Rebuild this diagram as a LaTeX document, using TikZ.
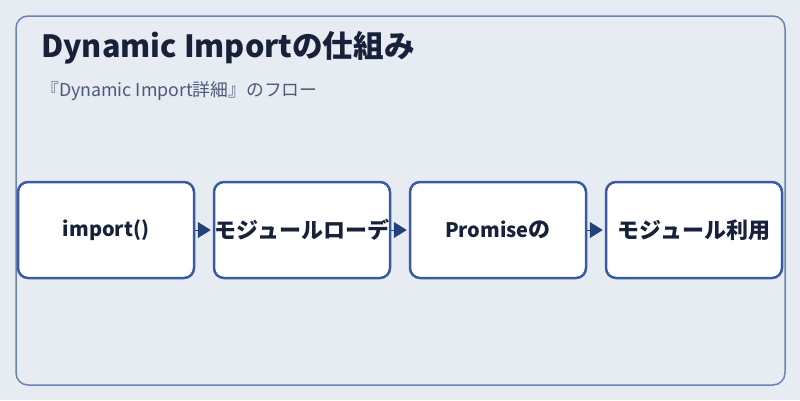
\documentclass[tikz,border=0pt]{standalone}
\usepackage{fontspec}
\setmainfont{Noto Sans CJK JP}
\usepackage{tikz}
\usetikzlibrary{calc}
\usetikzlibrary{arrows.meta}

\definecolor{bgcol}{HTML}{E7ECF2}
\definecolor{framecol}{HTML}{6A84B2}
\definecolor{boxcol}{HTML}{3A5BA3}
\definecolor{arrcol}{HTML}{26407A}
\definecolor{inkcol}{HTML}{17223A}
\definecolor{subcol}{HTML}{4B5A78}

% CJK runs are set a little larger than the Latin ones
\newcommand{\kana}[1]{{\fontsize{22}{24}\selectfont #1}}

\tikzset{
	stepbox/.style={draw=boxcol, line width=2.5pt, fill=white, rounded corners=10pt,
		minimum width=176pt, minimum height=96pt, inner sep=0pt,
		font=\fontsize{20}{24}\selectfont\bfseries, text=inkcol},
	flow/.style={arrcol, line width=1pt, shorten >=2pt, -{Triangle[length=13pt,width=16pt]}}
}

\begin{document}
\begin{tikzpicture}[x=1pt,y=-1pt]
			\useasboundingbox[fill=bgcol] (0,0) rectangle (800,400);
			\draw[framecol, line width=1.5pt, rounded corners=12pt] (16,16) rectangle (785,385);

			\node[anchor=base west, inner sep=0pt, text=inkcol, font=\fontsize{30.6}{34}\selectfont\bfseries] (title) at (41,57) {Dynamic Importの仕組み};
			\node[anchor=base west, inner sep=0pt, text=subcol, font=\fontsize{17.8}{20}\selectfont] (sub) at ($(title.base west)+(0,39)$) {『Dynamic Import詳細』のフロー};

			\node[stepbox] (load) at (106,230) {import()};
			\node[stepbox] (loader) at ($(load)+(196,0)$) {\kana{モジュールローデ}};
			\node[stepbox] (promise) at ($(loader)+(196,0)$) {Promise\kana{の}};
			\node[stepbox] (use) at ($(promise)+(196,0)$) {\kana{モジュール利用}};

			\draw[flow] (load.east) -- (loader.west);
			\draw[flow] (loader.east) -- (promise.west);
			\draw[flow] (promise.east) -- (use.west);
		\end{tikzpicture}
\end{document}
